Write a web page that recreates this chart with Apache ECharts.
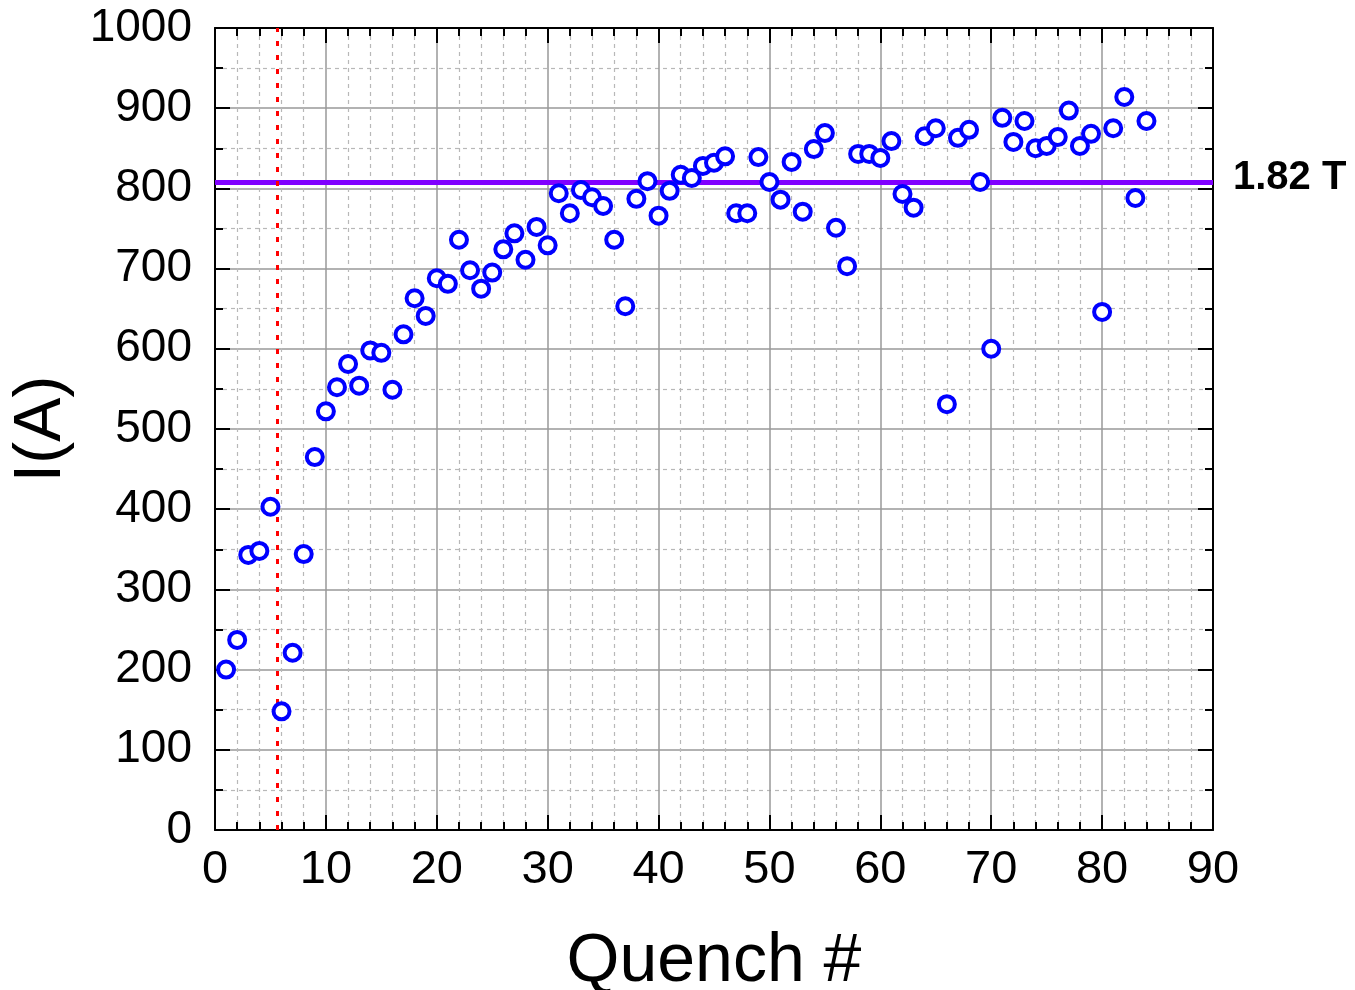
<!DOCTYPE html>
<html>
<head>
<meta charset="utf-8">
<script src="https://cdn.jsdelivr.net/npm/echarts@6/dist/echarts.min.js"></script>
<style>html,body{margin:0;padding:0;background:#fff}#c{width:1355px;height:990px}</style>
</head>
<body>
<div id="c"></div>
<script>
const quench = [1,2,3,4,5,6,7,8,9,10,11,12,13,14,15,16,17,18,19,20,21,22,23,24,25,26,27,28,29,30,31,32,33,34,35,36,37,38,39,40,41,42,43,44,45,46,47,48,49,50,51,52,53,54,55,56,57,58,59,60,61,62,63,64,65,66,67,68,69,70,71,72,73,74,75,76,77,78,79,80,81,82,83,84];
const current = [200,237,343,348,403,148,221,344,465,522,552,581,554,598,595,549,618,663,641,688,681,736,698,675,695,724,744,711,752,729,794,769,798,789,778,736,653,787,809,766,797,817,813,828,832,840,769,769,839,808,786,833,771,849,869,751,703,843,843,838,859,793,776,865,875,531,863,873,808,600,888,858,884,850,853,864,897,853,868,646,875,914,788,884];
const fieldLineA = 808;
const fieldLabel = '1.82 T';
const markerX = 5.6;

const font = 'Liberation Sans, Arial, sans-serif';
const points = quench.map((q, i) => [q, current[i]]);

const chart = echarts.init(document.getElementById('c'));
const majorGrid = {show: true, lineStyle: {color: '#999999', width: 1.5}};
const minorGrid = {show: true, lineStyle: {color: '#b8b8b8', width: 1.2, type: [4, 4]}};
chart.setOption({
  backgroundColor: '#fff',
  animation: false,
  grid: {left: 215, right: 142, top: 28, bottom: 160, outerBoundsMode: 'none', containLabel: false},
  xAxis: [{
    type: 'value', min: 0, max: 90, interval: 10,
    name: 'Quench #', nameLocation: 'middle', nameGap: 98,
    nameTextStyle: {fontFamily: font, fontSize: 68, color: '#000'},
    axisLine: {show: true, onZero: false, lineStyle: {color: '#000', width: 2}},
    axisTick: {show: true, inside: true, length: 15, lineStyle: {color: '#000', width: 2}},
    minorTick: {show: true, splitNumber: 5, length: 8, lineStyle: {color: '#000', width: 2}},
    axisLabel: {fontFamily: font, fontSize: 47, color: '#000', margin: 17},
    splitLine: majorGrid, minorSplitLine: minorGrid
  }, {
    type: 'value', position: 'top', min: 0, max: 90, interval: 10,
    axisLine: {show: true, onZero: false, lineStyle: {color: '#000', width: 2}},
    axisTick: {show: true, inside: true, length: 15, lineStyle: {color: '#000', width: 2}},
    minorTick: {show: true, splitNumber: 5, length: 8, lineStyle: {color: '#000', width: 2}},
    axisLabel: {show: false}, splitLine: {show: false}
  }],
  yAxis: [{
    type: 'value', min: 0, max: 1000, interval: 100,
    name: 'I(A)', nameLocation: 'middle', nameGap: 140,
    nameTextStyle: {fontFamily: font, fontSize: 66, color: '#000'},
    axisLine: {show: true, onZero: false, lineStyle: {color: '#000', width: 2}},
    axisTick: {show: true, inside: true, length: 15, lineStyle: {color: '#000', width: 2}},
    minorTick: {show: true, splitNumber: 2, length: 8, lineStyle: {color: '#000', width: 2}},
    axisLabel: {fontFamily: font, fontSize: 46, color: '#000', margin: 23, formatter: v => String(v)},
    splitLine: majorGrid, minorSplitLine: minorGrid
  }, {
    type: 'value', position: 'right', min: 0, max: 1000, interval: 100,
    axisLine: {show: true, onZero: false, lineStyle: {color: '#000', width: 2}},
    axisTick: {show: true, inside: true, length: 15, lineStyle: {color: '#000', width: 2}},
    minorTick: {show: true, splitNumber: 2, length: 8, lineStyle: {color: '#000', width: 2}},
    axisLabel: {show: false}, splitLine: {show: false}
  }],
  series: [{
    type: 'scatter', xAxisIndex: 0, yAxisIndex: 0,
    data: points, symbol: 'circle', symbolSize: 16,
    itemStyle: {color: '#fff', borderColor: '#0000ff', borderWidth: 4, opacity: 1},
    z: 5,
    markLine: {
      silent: true, symbol: 'none', animation: false,
      data: [
        {yAxis: fieldLineA, lineStyle: {color: '#8000ff', width: 5, type: 'solid'},
         label: {show: true, position: 'end', formatter: fieldLabel, fontFamily: font, fontWeight: 'bold', fontSize: 40, color: '#000', distance: 20, offset: [0, -4]}},
        {xAxis: markerX, lineStyle: {color: '#ff0000', width: 3, type: [5, 9]}, label: {show: false}}
      ]
    }
  }]
});
</script>
</body>
</html>
